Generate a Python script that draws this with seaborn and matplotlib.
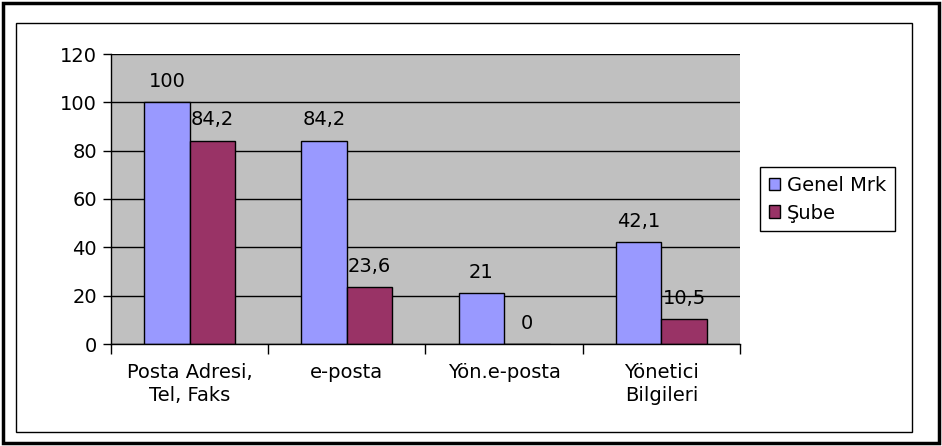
import pandas as pd
import numpy as np
import matplotlib.pyplot as plt
import matplotlib.patches as mpatches
import seaborn as sns

# chart data
kategoriler = ["Posta Adresi,\nTel, Faks", "e-posta", "Yön.e-posta", "Yönetici\nBilgileri"]
genel_mrk = [100, 84.2, 21, 42.1]
sube = [84.2, 23.6, 0, 10.5]
seriler = ["Genel Mrk", "Şube"]
y_ticks = [0, 20, 40, 60, 80, 100, 120]

#long form table for seaborn
df = pd.DataFrame({
    "kategori": kategoriler * 2,
    "deger": genel_mrk + sube,
    "seri": [seriler[0]] * len(kategoriler) + [seriler[1]] * len(kategoriler),
})

sns.set_style("white")
plt.rcParams["font.family"] = ["DejaVu Sans"]
plt.rcParams["font.size"] = 14
plt.rcParams["text.color"] = "black"
plt.rcParams["xtick.color"] = "black"
plt.rcParams["ytick.color"] = "black"
plt.rcParams["xtick.labelcolor"] = "black"
plt.rcParams["ytick.labelcolor"] = "black"

fig = plt.figure(figsize=(9.42, 4.46), dpi=100)
ax = fig.add_axes([111 / 942, 1 - 344 / 446, 629 / 942, 290 / 446])

sns.barplot(data=df, x="kategori", y="deger", hue="seri",
            palette=["#9999FF", "#993366"], width=0.58, gap=0,
            edgecolor="black", linewidth=1, saturation=1, ax=ax)

ax.set_facecolor("#C0C0C0")
ax.set_ylim(0, 120)
ax.set_xlim(-0.5, len(kategoriler) - 0.5)
ax.set_yticks(y_ticks)
ax.yaxis.grid(True, color="black", linewidth=1)
ax.set_axisbelow(True)
ax.set_xlabel("")
ax.set_ylabel("")

for side in ["top", "right"]:
    ax.spines[side].set_visible(False)
for side in ["left", "bottom"]:
    ax.spines[side].set_color("black")
    ax.spines[side].set_linewidth(1)

#excel-like ticks: y out on left, x marks at category boundaries
ax.tick_params(axis="y", direction="out", length=6, color="black", width=1, left=True, pad=4, labelsize=14)
ax.set_xticks(np.arange(-0.5, len(kategoriler)), minor=True)
ax.tick_params(axis="x", which="minor", direction="out", length=7, color="black", width=1, bottom=True)
ax.tick_params(axis="x", which="major", length=0, pad=14, labelsize=14)
for t in ax.get_xticklabels():
    t.set_linespacing(1.25)

#data labels with comma decimals
for cont, vals in zip(ax.containers, [genel_mrk, sube]):
    labs = [("%g" % v).replace(".", ",") for v in vals]
    ax.bar_label(cont, labels=labs, padding=8, fontsize=14, color="black")

leg = ax.legend(loc="upper left", bbox_to_anchor=(760 / 942, 1 - 167 / 446),
                bbox_transform=fig.transFigure, fancybox=False, frameon=True,
                edgecolor="black", framealpha=1, handlelength=0.6, handleheight=0.6,
                handletextpad=0.35, borderpad=0.45, labelspacing=0.45, borderaxespad=0,
                fontsize=14)
leg.get_frame().set_linewidth(1)

#chart area border and outer frame
fig.patches.append(mpatches.Rectangle((16 / 942, 1 - 432 / 446), 896 / 942, 409 / 446,
                                      transform=fig.transFigure, fill=False,
                                      edgecolor="black", linewidth=1))
fig.patches.append(mpatches.Rectangle((3 / 942, 3 / 446), 936 / 942, 440 / 446,
                                      transform=fig.transFigure, fill=False,
                                      edgecolor="black", linewidth=2.5))

fig.savefig("out.png", dpi=100, facecolor="white")
